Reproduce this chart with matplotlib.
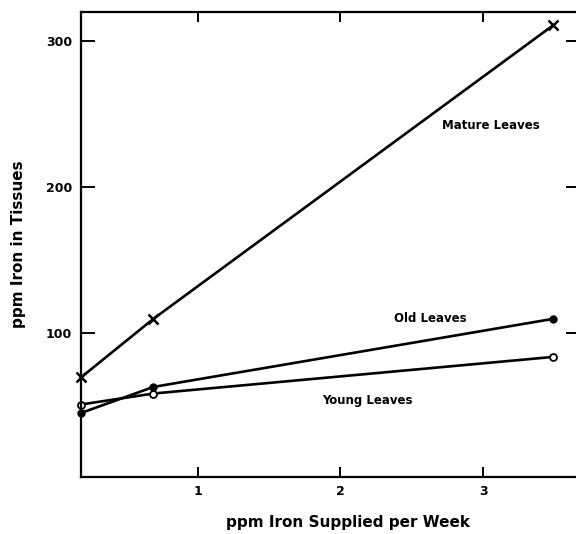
import matplotlib.pyplot as plt

# iron supplied (ppm per week) and iron found in tissues (ppm)
supplied = [0.183, 0.69, 3.49]
mature_leaves = [70, 110, 310.5]
old_leaves = [45.7, 63.5, 110]
young_leaves = [51.5, 59, 84]

plt.rcParams["font.family"] = "DejaVu Sans"
plt.rcParams["font.weight"] = "bold"

fig = plt.figure(figsize=(5.76, 5.34), dpi=100)
W, H = 576, 534
left, right, top, bottom = 81, 580, 12, 477
ax = fig.add_axes([left / W, 1 - bottom / H, (right - left) / W, (bottom - top) / H])

ax.plot(supplied, mature_leaves, color="black", lw=1.9, marker="x", ms=7, mew=1.8, clip_on=False)
ax.plot(supplied, old_leaves, color="black", lw=1.9, marker="o", ms=5, mfc="black", clip_on=False)
ax.plot(supplied, young_leaves, color="black", lw=1.9, marker="o", ms=5, mfc="white", mew=1.3,
        clip_on=False)

ax.text(3.05, 242, "Mature Leaves", fontsize=8.5, fontweight="bold", ha="center", va="center")
ax.text(2.63, 110, "Old Leaves", fontsize=8.5, fontweight="bold", ha="center", va="center")
ax.text(2.19, 54.5, "Young Leaves", fontsize=8.5, fontweight="bold", ha="center", va="center")

ax.set_xlim(0.183, 3.677)
ax.set_ylim(2, 319.5)
ax.set_xticks([1, 2, 3])
ax.set_yticks([100, 200, 300])
ax.tick_params(axis="x", direction="in", length=7, width=1.4, top=True, pad=6, labelsize=9)
ax.tick_params(axis="y", direction="in", length=10, width=1.4, right=True, pad=6.5, labelsize=9)
for spine in ax.spines.values():
    spine.set_linewidth(1.6)

ax.set_ylabel("ppm Iron in Tissues", fontsize=11, fontweight="bold", labelpad=14)
fig.text(348 / W, 1 - 523 / H, "ppm Iron Supplied per Week", fontsize=11,
         fontweight="bold", ha="center", va="center")

fig.savefig("out.png", dpi=100)
